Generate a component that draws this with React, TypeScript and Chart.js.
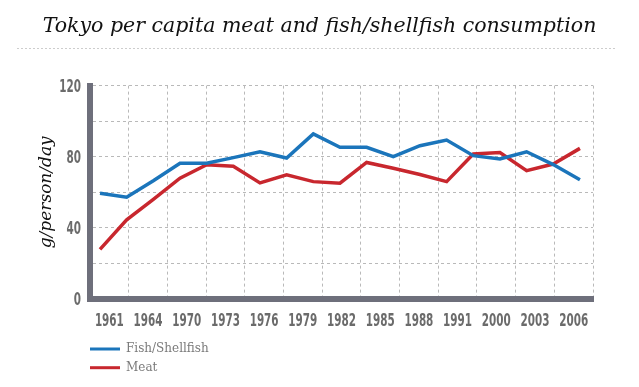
import { useEffect, useRef } from 'react';
import { Chart, registerables } from 'chart.js';

Chart.register(...registerables);

// ---- data ----
const yearLabels = ['1961', '1964', '1970', '1973', '1976', '1979', '1982', '1985', '1988', '1991', '2000', '2003', '2006'];
const fishShellfish = [59.5, 57.2, 66.5, 76.3, 76.3, 79.5, 82.8, 79.3, 92.8, 85.3, 85.3, 80, 86.2, 89.4, 80.6, 78.7, 82.8, 75.6, 67.1];
const meat = [27.9, 44.5, 56, 67.9, 75.5, 74.6, 65.3, 69.8, 66, 65.1, 76.8, 73.5, 70, 66, 81.5, 82.4, 72.2, 75.9, 84.7];
const seriesNames = ['Fish/Shellfish', 'Meat'];
const seriesColors = ['#1b75bb', '#c8272e'];
const yMin = 0;
const yMax = 120;
const yGridStep = 20;
const yLabelStep = 40;

const TICK_FONT = "bold 17.5px 'DejaVu Sans Condensed', 'DejaVu Sans', sans-serif";
const TICK_SCALE_X = 0.66;
const TICK_COLOR = '#6b6b6b';
const SERIF = "'DejaVu Serif', serif";
const AXIS_GREY = '#6e6f7b';
const GRID_GREY = '#b9b9b9';

function drawNarrowText(ctx: CanvasRenderingContext2D, text: string, x: number, y: number, align: 'center' | 'right') {
  ctx.save();
  ctx.translate(x, y);
  ctx.scale(TICK_SCALE_X, 1);
  ctx.textAlign = align;
  ctx.textBaseline = 'alphabetic';
  ctx.fillText(text, 0, 0);
  ctx.restore();
}

const decorPlugin = {
  id: 'decor',
  beforeDraw(chart: any) {
    const ctx = chart.ctx;
    ctx.save();
    ctx.strokeStyle = '#cdcdcd';
    ctx.lineWidth = 1;
    ctx.setLineDash([2, 2]);
    ctx.beginPath();
    ctx.moveTo(17, 48.5);
    ctx.lineTo(615, 48.5);
    ctx.stroke();
    ctx.restore();
  },
  afterDraw(chart: any) {
    const ctx: CanvasRenderingContext2D = chart.ctx;
    const area = chart.chartArea;
    // axis tick labels (condensed), positioned by the chart's own scales
    ctx.save();
    ctx.fillStyle = TICK_COLOR;
    ctx.font = TICK_FONT;
    const xs = chart.scales.x;
    xs.ticks.forEach((t: any, i: number) => {
      const label = xs.getLabelForValue(t.value);
      drawNarrowText(ctx, String(label), xs.getPixelForTick(i), area.bottom + 26.5, 'center');
    });
    const ys = chart.scales.y;
    ys.ticks.forEach((t: any) => {
      if (t.value % yLabelStep !== 0) return;
      drawNarrowText(ctx, String(t.value), area.left - 9, ys.getPixelForValue(t.value) + 6.3, 'right');
    });
    ctx.restore();

    // legend
    ctx.save();
    chart.data.datasets.forEach((ds: any, i: number) => {
      const y = 349 + i * 18.7;
      ctx.strokeStyle = ds.borderColor;
      ctx.lineWidth = 3;
      ctx.beginPath();
      ctx.moveTo(90, y);
      ctx.lineTo(120, y);
      ctx.stroke();
      ctx.fillStyle = '#7a7a7a';
      ctx.font = `12px ${SERIF}`;
      ctx.textBaseline = 'middle';
      ctx.textAlign = 'left';
      ctx.fillText(ds.label, 126, y);
    });
    ctx.restore();
  },
};

export default function App() {
  const ref = useRef<HTMLCanvasElement>(null);

  useEffect(() => {
    document.body.style.margin = '0';
    const observationIndex = fishShellfish.map((_, i) => i);
    const chart = new Chart(ref.current as HTMLCanvasElement, {
      type: 'line',
      data: {
        labels: yearLabels,
        datasets: [
          {
            label: seriesNames[0],
            data: observationIndex.map((i) => ({ x: i, y: fishShellfish[i] })),
            borderColor: seriesColors[0],
            backgroundColor: seriesColors[0],
            borderWidth: 3.5,
            pointRadius: 0,
            tension: 0,
            xAxisID: 'xd',
            yAxisID: 'y',
          },
          {
            label: seriesNames[1],
            data: observationIndex.map((i) => ({ x: i, y: meat[i] })),
            borderColor: seriesColors[1],
            backgroundColor: seriesColors[1],
            borderWidth: 3.5,
            pointRadius: 0,
            tension: 0,
            xAxisID: 'xd',
            yAxisID: 'y',
          },
        ],
      },
      options: {
        animation: false,
        responsive: false,
        devicePixelRatio: 1,
        layout: { padding: { left: 0, right: 0, top: 0, bottom: 48 } },
        plugins: {
          legend: { display: false },
          tooltip: { enabled: false },
          title: {
            display: true,
            text: 'Tokyo per capita meat and fish/shellfish consumption',
            color: '#111',
            font: { family: SERIF, style: 'italic', size: 20.5, weight: 'normal' },
            padding: { top: 14, bottom: 47 },
          },
        },
        scales: {
          x: {
            type: 'category',
            position: 'bottom',
            offset: true,
            grid: { display: true, offset: true, color: GRID_GREY, lineWidth: 1, drawTicks: false },
            border: { display: true, color: AXIS_GREY, width: 6, dash: [3, 3] },
            ticks: { display: false, autoSkip: false },
            afterFit(scale: any) {
              scale.height = 40;
            },
          },
          xd: {
            type: 'linear',
            display: false,
            min: -0.375,
            max: 18.49,
          },
          y: {
            type: 'linear',
            position: 'left',
            min: yMin,
            max: yMax,
            grid: { color: GRID_GREY, lineWidth: 1, drawTicks: false },
            border: { display: true, color: AXIS_GREY, width: 6, dash: [3, 3] },
            ticks: { display: false, stepSize: yGridStep },
            title: {
              display: true,
              text: 'g/person/day',
              color: '#111',
              font: { family: SERIF, style: 'italic', size: 17, weight: 'normal' },
              padding: { top: 36, bottom: 0 },
            },
            afterFit(scale: any) {
              scale.width = 90;
            },
          },
          yr: {
            type: 'linear',
            position: 'right',
            display: true,
            grid: { display: false, drawTicks: false },
            border: { display: false },
            ticks: { display: false },
            afterFit(scale: any) {
              scale.width = 46;
            },
          },
        },
      },
      plugins: [decorPlugin],
    } as any);
    return () => chart.destroy();
  }, []);

  return (
    <div style={{ width: 639, height: 387, position: 'relative' }}>
      <canvas ref={ref} width={639} height={387} style={{ display: 'block' }} />
    </div>
  );
}
